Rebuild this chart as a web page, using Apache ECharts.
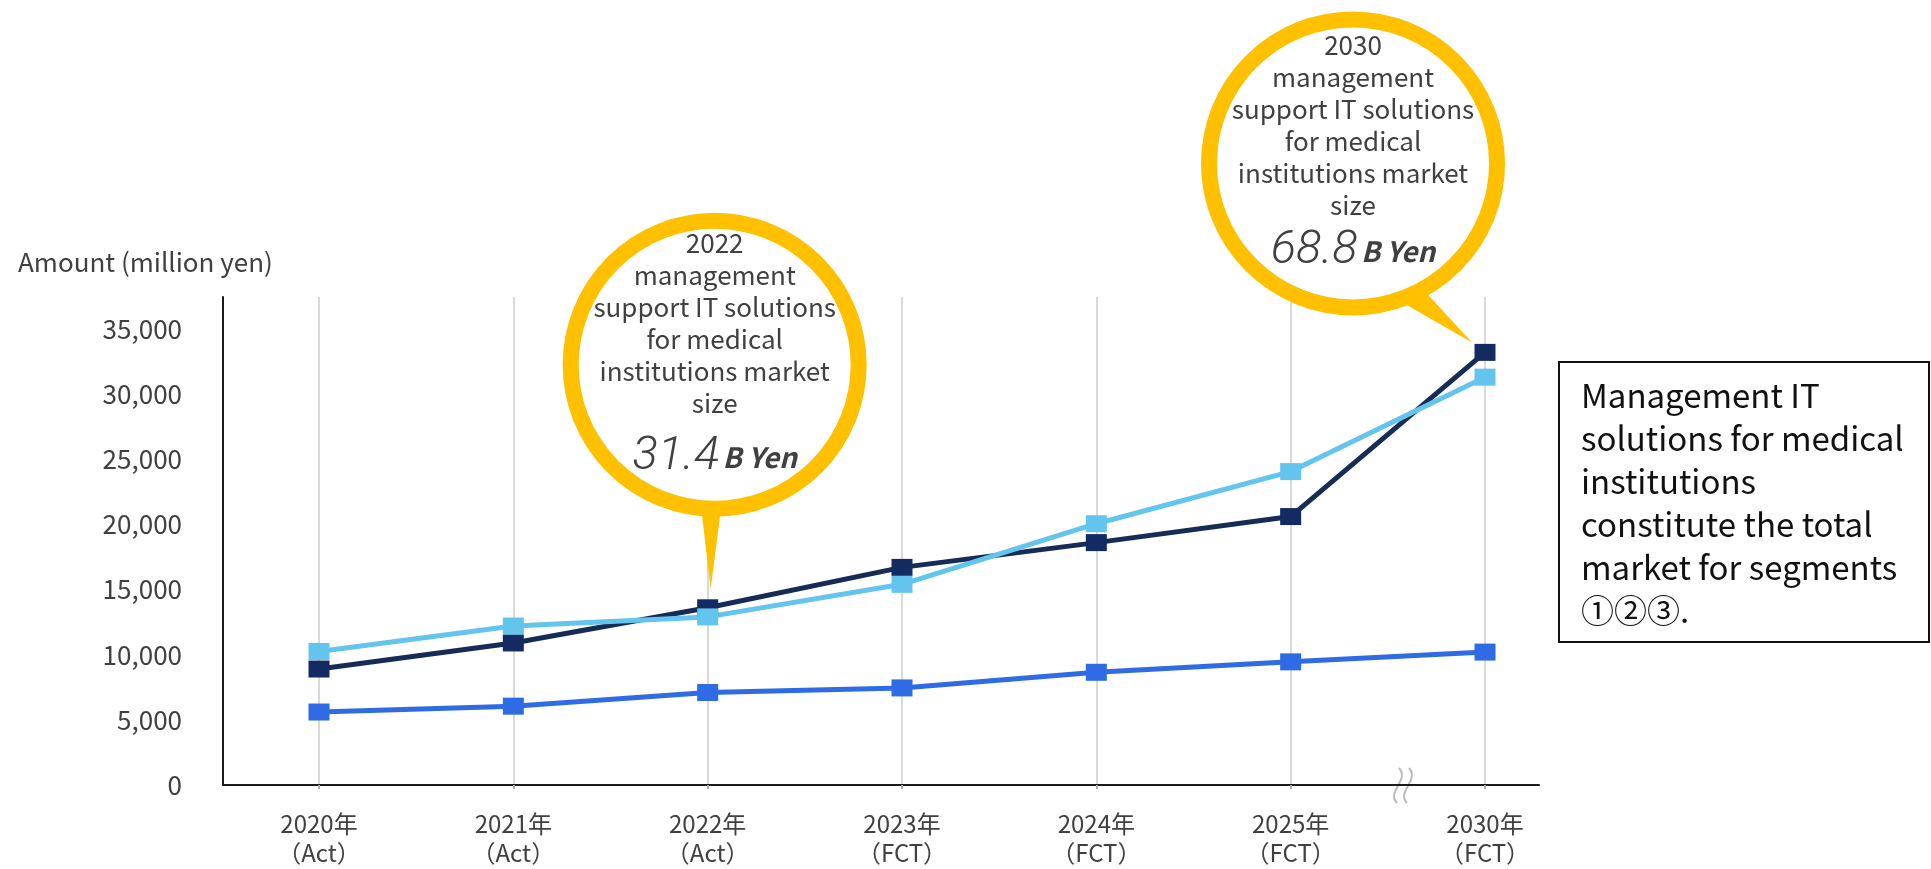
<!DOCTYPE html>
<html>
<head>
<meta charset="utf-8">
<script src="https://cdn.jsdelivr.net/npm/echarts@6/dist/echarts.min.js"></script>
<style>
  html, body { margin: 0; padding: 0; background: #fff; }
  #main { width: 1931px; height: 869px; }
</style>
</head>
<body>
<div id="main"></div>
<script>
// data (million yen)
var years = ['2020年', '2021年', '2022年', '2023年', '2024年', '2025年', '2030年'];
var phases = ['（Act）', '（Act）', '（Act）', '（FCT）', '（FCT）', '（FCT）', '（FCT）'];
var seriesBlue = [5600, 6050, 7100, 7450, 8650, 9450, 10200];
var seriesNavy = [8900, 10900, 13600, 16700, 18600, 20600, 33200];
var seriesLight = [10250, 12200, 12900, 15400, 20050, 24050, 31300];
var yTicks = [0, 5000, 10000, 15000, 20000, 25000, 30000, 35000];

var bubbleLines = 'management\nsupport IT solutions\nfor medical\ninstitutions market\nsize';
var bubble2022 = { year: '2022', value: '31.4' };
var bubble2030 = { year: '2030', value: '68.8' };
var noteLines = ['Management IT', 'solutions for medical', 'institutions', 'constitute the total', 'market for segments', '①②③.'];

var FONT = '"Noto Sans CJK JP", "Noto Sans", sans-serif';
var TXT = '#404040';
var YMAX = 37450;

var chartDom = document.getElementById('main');
var myChart = echarts.init(chartDom);

var option = {
  animation: false,
  textStyle: { fontFamily: FONT },
  title: {
    text: 'Amount (million yen)',
    left: 13, top: 244,
    textStyle: { fontFamily: FONT, fontSize: 26, fontWeight: 'normal', color: TXT }
  },
  grid: [
    { left: 223, right: 392, top: 297, bottom: 84, outerBoundsMode: 'none' },
    { left: 319, right: 446, top: 297, bottom: 84, outerBoundsMode: 'none' }
  ],
  xAxis: [
    {
      gridIndex: 0, type: 'value', min: 0, max: 1,
      axisLine: { show: true, lineStyle: { color: '#1a1a1a', width: 2 } },
      axisTick: { show: false }, axisLabel: { show: false }, splitLine: { show: false }
    },
    {
      gridIndex: 1, type: 'category', boundaryGap: false,
      data: years.map(function (y, i) { return y + '\n' + phases[i]; }),
      axisLine: { show: false },
      axisTick: { show: true, length: 4, interval: 0, lineStyle: { color: '#aaaaaa', width: 2 } },
      splitLine: { show: true, interval: 0, lineStyle: { color: '#d9d9d9', width: 2 } },
      axisLabel: { interval: 0, margin: 24, fontSize: 24, lineHeight: 29, color: TXT, fontFamily: FONT }
    }
  ],
  yAxis: [
    {
      gridIndex: 0, type: 'value', min: 0, max: YMAX, interval: 5000,
      axisLine: { show: true, lineStyle: { color: '#1a1a1a', width: 2 } },
      axisTick: { show: false },
      splitLine: { show: false },
      axisLabel: {
        showMaxLabel: false, margin: 41, fontSize: 26, color: TXT, fontFamily: FONT,
        formatter: function (v) { return yTicks.indexOf(v) >= 0 ? v.toLocaleString('en-US') : ''; }
      }
    },
    { gridIndex: 1, type: 'value', min: 0, max: YMAX, show: false }
  ],
  series: [
    {
      name: 'segment blue', type: 'line', xAxisIndex: 1, yAxisIndex: 1,
      data: seriesBlue, symbol: 'rect', symbolSize: [21, 17],
      lineStyle: { color: '#2f6be4', width: 5 }, itemStyle: { color: '#2f6be4' }
    },
    {
      name: 'segment navy', type: 'line', xAxisIndex: 1, yAxisIndex: 1,
      data: seriesNavy, symbol: 'rect', symbolSize: [21, 17],
      lineStyle: { color: '#172b57', width: 5 }, itemStyle: { color: '#132a62' }
    },
    {
      name: 'segment light', type: 'line', xAxisIndex: 1, yAxisIndex: 1,
      data: seriesLight, symbol: 'rect', symbolSize: [21, 17],
      lineStyle: { color: '#63c4ee', width: 5 }, itemStyle: { color: '#63c4ee' }
    }
  ]
};
option && myChart.setOption(option);

// speech bubble anchored on a navy marker
function bubble(anchor, c, tail, info, top, valueY) {
  return {
    type: 'group', x: anchor[0], y: anchor[1], z: 50,
    children: [
      { type: 'polygon', shape: { points: tail }, style: { fill: '#ffc000' } },
      { type: 'circle', shape: { cx: c[0], cy: c[1], r: 144 }, style: { fill: '#fff', stroke: '#ffc000', lineWidth: 16 } },
      {
        type: 'text', x: c[0], y: top,
        style: {
          text: info.year + '\n' + bubbleLines, fill: TXT, fontFamily: FONT, fontSize: 26,
          lineHeight: 32, align: 'center', verticalAlign: 'top', textAlign: 'center', textVerticalAlign: 'top'
        }
      },
      {
        type: 'text', x: c[0], y: valueY,
        style: {
          text: '{n|' + info.value + '} {u|B Yen}', fill: TXT,
          align: 'center', verticalAlign: 'middle', textAlign: 'center', textVerticalAlign: 'middle',
          rich: {
            n: { fontFamily: 'Roboto, "Noto Sans", sans-serif', fontWeight: 300, fontStyle: 'italic', fontSize: 47, fill: TXT, color: TXT, verticalAlign: 'bottom', lineHeight: 56 },
            u: { fontFamily: FONT, fontWeight: 'bold', fontStyle: 'italic', fontSize: 28, fill: TXT, color: TXT, verticalAlign: 'bottom', lineHeight: 36, padding: [0, 0, 9, 0] }
          }
        }
      }
    ]
  };
}

var p22 = myChart.convertToPixel({ seriesIndex: 1 }, [2, seriesNavy[2]]);
var p30 = myChart.convertToPixel({ seriesIndex: 1 }, [6, seriesNavy[6]]);

var graphics = [
  bubble(p22, [7, -243], [[-8, -112], [15, -112], [3, -19]], bubble2022, -381, -155),
  bubble(p30, [-132, -189], [[-100, -60], [-72, -74], [-13, -10]], bubble2030, -323, -106),
  // axis break marks
  { type: 'bezierCurve', shape: { x1: 1399, y1: 768, cpx1: 1410, cpy1: 780, cpx2: 1386, cpy2: 792, x2: 1397, y2: 803 }, style: { stroke: '#bbbbbb', lineWidth: 2, fill: null } },
  { type: 'bezierCurve', shape: { x1: 1409, y1: 768, cpx1: 1420, cpy1: 780, cpx2: 1396, cpy2: 792, x2: 1407, y2: 803 }, style: { stroke: '#bbbbbb', lineWidth: 2, fill: null } },
  // note box
  {
    type: 'group', x: 1559, y: 362,
    children: [
      { type: 'rect', shape: { x: 0, y: 0, width: 370, height: 280 }, style: { fill: '#fff', stroke: '#111', lineWidth: 2 } },
      {
        type: 'text', x: 22, y: 12,
        style: { text: noteLines.join('\n'), fill: '#111', fontFamily: FONT, fontSize: 33, lineHeight: 43, align: 'left', verticalAlign: 'top' }
      }
    ]
  }
];
myChart.setOption({ graphic: graphics });
</script>
</body>
</html>
